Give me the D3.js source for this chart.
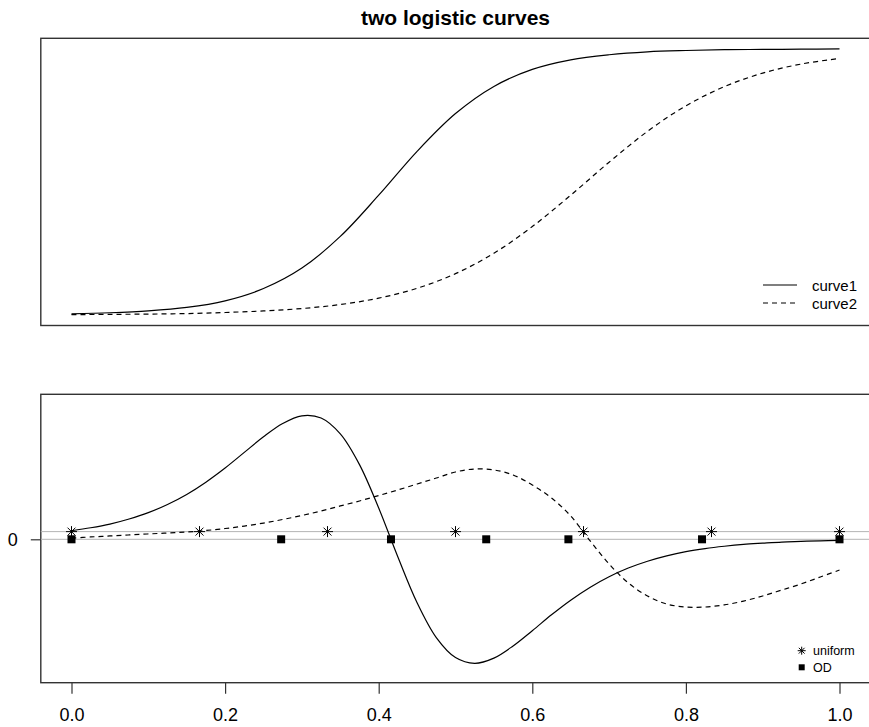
<!DOCTYPE html>
<html>
<head>
<meta charset="utf-8">
<script src="https://cdn.jsdelivr.net/npm/d3@7"></script>
<style>
  html, body { margin: 0; padding: 0; background: #fff; }
  svg { display: block; }
  text { font-family: "Liberation Sans", Arial, sans-serif; fill: #000; }
</style>
</head>
<body>
<svg id="chart" width="869" height="727"></svg>
<script>
// ---------- data ----------
const xsTop = [0, 0.05, 0.10, 0.15, 0.20, 0.25, 0.30, 0.35, 0.40, 0.45, 0.50,
               0.55, 0.60, 0.65, 0.70, 0.75, 0.80, 0.85, 0.90, 0.95, 1.00];
const curve1 = [0.004, 0.008, 0.015, 0.028, 0.053, 0.099, 0.176, 0.295, 0.450, 0.615, 0.757,
                0.859, 0.923, 0.959, 0.978, 0.989, 0.994, 0.997, 0.998, 0.999, 1.000];
const curve2 = [0.001, 0.002, 0.003, 0.005, 0.009, 0.015, 0.024, 0.039, 0.063, 0.100, 0.155,
                0.232, 0.332, 0.450, 0.574, 0.690, 0.786, 0.858, 0.909, 0.943, 0.964];
const xsBot = [0, 0.025, 0.05, 0.075, 0.10, 0.125, 0.15, 0.175, 0.20, 0.225,
               0.25, 0.275, 0.30, 0.325, 0.35, 0.375, 0.40, 0.425, 0.45, 0.475,
               0.50, 0.525, 0.55, 0.575, 0.60, 0.625, 0.65, 0.675, 0.70, 0.725,
               0.75, 0.775, 0.80, 0.825, 0.85, 0.875, 0.90, 0.925, 0.95, 0.975, 1.00];
// lower panel: sensitivity curves (arbitrary units, 0 = reference line)
const sens1 = [0.069, 0.093, 0.123, 0.164, 0.215, 0.281, 0.362, 0.461, 0.575, 0.701,
               0.827, 0.934, 0.996, 0.978, 0.850, 0.602, 0.252, -0.143, -0.512, -0.793,
               -0.954, -1.000, -0.958, -0.860, -0.737, -0.609, -0.491, -0.388, -0.302, -0.232,
               -0.177, -0.134, -0.100, -0.075, -0.056, -0.041, -0.031, -0.022, -0.017, -0.012, -0.009];
const sens2 = [0.010, 0.019, 0.027, 0.035, 0.043, 0.051, 0.059, 0.071, 0.087, 0.107,
               0.131, 0.160, 0.192, 0.228, 0.269, 0.309, 0.353, 0.398, 0.446, 0.494,
               0.543, 0.567, 0.559, 0.519, 0.438, 0.333, 0.188, -0.010, -0.199, -0.352,
               -0.457, -0.522, -0.546, -0.546, -0.529, -0.498, -0.457, -0.409, -0.360, -0.304, -0.248];
const uniformX = [0, 1/6, 2/6, 3/6, 4/6, 5/6, 1];
const uniformLevel = 0.062;
const odX = [0, 0.273, 0.416, 0.540, 0.647, 0.821, 1];
const odLevel = 0;
const xTicks = [0, 0.2, 0.4, 0.6, 0.8, 1.0];
const yTicksBottom = [0];
const title = "two logistic curves";
const legendTop = ["curve1", "curve2"];
const legendBottom = ["uniform", "OD"];

// ---------- layout ----------
const svg = d3.select("#chart");
const boxLeft = 40.8, boxRight = 870.2;
const top1 = 38.3, bot1 = 325.5;
const top2 = 394.3, bot2 = 682.7;

const x = d3.scaleLinear().domain([0, 1]).range([71.5, 839.5]);
const yTop = d3.scaleLinear().domain([0, 1]).range([314.9, 48.9]);
const yBot = d3.scaleLinear().domain([0, 1]).range([539.3, 415.3]);

// title
svg.append("text")
  .attr("x", (boxLeft + boxRight) / 2).attr("y", 25)
  .attr("text-anchor", "middle")
  .style("font-weight", "bold").style("font-size", "21px")
  .text(title);

// boxes
[[top1, bot1], [top2, bot2]].forEach(([t, b]) => {
  svg.append("rect")
    .attr("x", boxLeft).attr("y", t)
    .attr("width", boxRight - boxLeft).attr("height", b - t)
    .attr("fill", "none").attr("stroke", "#333").attr("stroke-width", 1.4);
});

// top panel curves
const lineTop = d3.line().x((d, i) => x(xsTop[i])).y(d => yTop(d)).curve(d3.curveCatmullRom.alpha(0.5));
svg.append("path").datum(curve1).attr("d", lineTop)
  .attr("fill", "none").attr("stroke", "#000").attr("stroke-width", 1.2);
svg.append("path").datum(curve2).attr("d", lineTop)
  .attr("fill", "none").attr("stroke", "#000").attr("stroke-width", 1.2)
  .attr("stroke-dasharray", "5,4");

// top legend
const lgTop = svg.append("g");
legendTop.forEach((name, i) => {
  const yy = 285 + i * 18;
  lgTop.append("line").attr("x1", 763).attr("x2", 797).attr("y1", yy).attr("y2", yy)
    .attr("stroke", "#000").attr("stroke-width", 1.2)
    .attr("stroke-dasharray", i === 1 ? "5,4" : null);
  lgTop.append("text").attr("x", 812).attr("y", yy + 5.5)
    .style("font-size", "15px").text(name);
});

// bottom panel reference lines
[uniformLevel, odLevel].forEach(v => {
  svg.append("line").attr("x1", boxLeft).attr("x2", boxRight)
    .attr("y1", yBot(v)).attr("y2", yBot(v))
    .attr("stroke", "#b4b4b4").attr("stroke-width", 1);
});

// bottom panel curves
const lineBot = d3.line().x((d, i) => x(xsBot[i])).y(d => yBot(d)).curve(d3.curveCatmullRom.alpha(0.5));
svg.append("path").datum(sens1).attr("d", lineBot)
  .attr("fill", "none").attr("stroke", "#000").attr("stroke-width", 1.2);
svg.append("path").datum(sens2).attr("d", lineBot)
  .attr("fill", "none").attr("stroke", "#000").attr("stroke-width", 1.2)
  .attr("stroke-dasharray", "5,4");

// markers
function asterisk(g, cx, cy, r) {
  const d = r * 0.72;
  const p = `M${cx - r},${cy}L${cx + r},${cy}M${cx},${cy - r}L${cx},${cy + r}` +
            `M${cx - d},${cy - d}L${cx + d},${cy + d}M${cx - d},${cy + d}L${cx + d},${cy - d}`;
  g.append("path").attr("d", p).attr("stroke", "#000").attr("stroke-width", 1).attr("fill", "none");
}
const marks = svg.append("g");
uniformX.forEach(v => asterisk(marks, x(v), yBot(uniformLevel), 5.5));
marks.selectAll("rect.od").data(odX).enter().append("rect")
  .attr("class", "od")
  .attr("x", d => x(d) - 4).attr("y", yBot(odLevel) - 4)
  .attr("width", 8).attr("height", 8).attr("fill", "#000");

// bottom legend
asterisk(svg, 801.7, 650.7, 4);
svg.append("rect").attr("x", 798.7).attr("y", 664.3).attr("width", 6).attr("height", 6).attr("fill", "#000");
legendBottom.forEach((name, i) => {
  svg.append("text").attr("x", 813).attr("y", 655 + i * 17)
    .style("font-size", "12.5px").text(name);
});

// x axis (bottom panel)
const xAxis = d3.axisBottom(x).tickValues(xTicks).tickFormat(d3.format(".1f"))
  .tickSize(11).tickPadding(15);
const gx = svg.append("g").attr("transform", `translate(0,${bot2})`).call(xAxis);
gx.select(".domain").remove();
gx.selectAll("line").attr("stroke", "#333").attr("stroke-width", 1.2);
gx.selectAll("text").style("font-size", "18px").style("font-family", "Liberation Sans, Arial, sans-serif");

// y axis (bottom panel)
const yAxis = d3.axisLeft(yBot).tickValues(yTicksBottom).tickFormat(d3.format("d"))
  .tickSize(10).tickPadding(13);
const gy = svg.append("g").attr("transform", `translate(${boxLeft},0)`).call(yAxis);
gy.select(".domain").remove();
gy.selectAll("line").attr("stroke", "#333").attr("stroke-width", 1.2);
gy.selectAll("text").style("font-size", "18px").style("font-family", "Liberation Sans, Arial, sans-serif");
</script>
</body>
</html>
